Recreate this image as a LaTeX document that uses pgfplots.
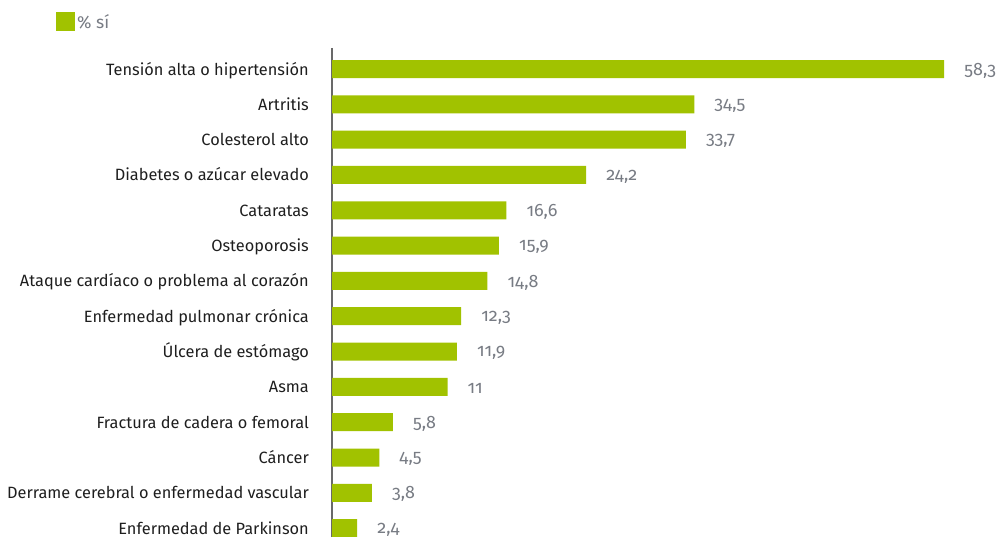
\documentclass[border=0pt]{standalone}
\usepackage{pgfplots}
\pgfplotsset{compat=1.18}
\usepackage{fontspec}
\setmainfont{Fira Sans}
\newfontfamily\numfont[Numbers=OldStyle]{Fira Sans}
\definecolor{bargreen}{RGB}{161,194,0}
\definecolor{valgray}{RGB}{120,124,132}
\definecolor{axgray}{RGB}{105,105,105}
\definecolor{labblack}{RGB}{30,30,30}
\begin{document}
\begin{tikzpicture}[x=1bp,y=1bp]
\useasboundingbox (0,0) rectangle (999,537);
\begin{axis}[
  at={(332bp,0bp)}, anchor=south west,
  scale only axis, width=667bp, height=489bp,
  xbar, bar width=18bp, bar shift=0pt,
  xmin=0, xmax=63.52,
  ymin=-0.595, ymax=13.25, y dir=reverse,
  axis x line=none, axis y line=left,
  y axis line style={-, draw=axgray, line width=1.6bp},
  ytick={0,...,13},
  yticklabels={Tensión alta o hipertensión, Artritis, Colesterol alto, Diabetes o azúcar elevado, Cataratas, Osteoporosis, Ataque cardíaco o problema al corazón, Enfermedad pulmonar crónica, Úlcera de estómago, Asma, Fractura de cadera o femoral, Cáncer, Derrame cerebral o enfermedad vascular, Enfermedad de Parkinson},
  major tick length=0pt,
  yticklabel style={anchor=east, inner sep=0pt, xshift=-23bp, text height=14bp, text depth=2bp, font=\fontsize{16.4}{18}\selectfont, text=labblack},
  clip=false,
  nodes near coords,
  every node near coord/.append style={font=\numfont\fontsize{18}{20}\selectfont, text=valgray, anchor=west, inner sep=0pt, xshift=20bp, yshift=-1.5bp, /pgf/number format/use comma, /pgf/number format/assume math mode=true},
  legend style={at={(axis description cs:-0.41379,1.07362)}, anchor=north west, draw=none, inner sep=0pt, font=\fontsize{17.5}{19}\selectfont, text=valgray},
  legend image code/.code={\fill[bargreen] (0bp,-9.5bp) rectangle (19bp,9.5bp);},
  legend cell align=left,
  every legend entry/.append style={xshift=4bp},
]
\addplot[fill=bargreen, draw=none] coordinates {
(58.3,0) (34.5,1) (33.7,2) (24.2,3) (16.6,4) (15.9,5) (14.8,6) (12.3,7) (11.9,8) (11,9) (5.8,10) (4.5,11) (3.8,12) (2.4,13)};
\addlegendentry{\% sí}
\end{axis}
\end{tikzpicture}
\end{document}
